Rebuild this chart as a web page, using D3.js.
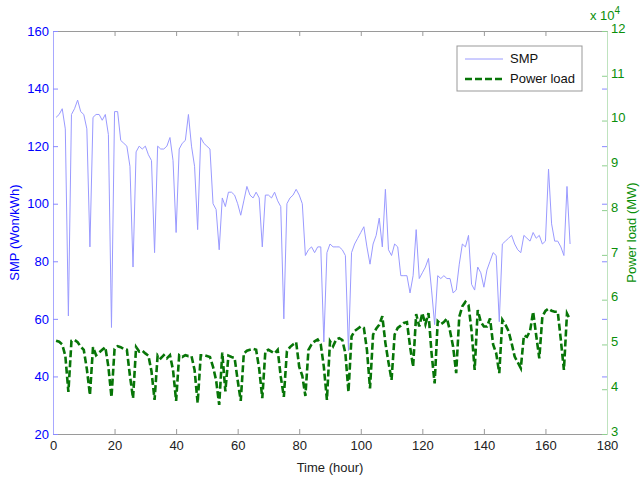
<!DOCTYPE html>
<html><head><meta charset="utf-8">
<script src="https://cdn.jsdelivr.net/npm/d3@7"></script>
<style>
body{margin:0;background:#fff}
svg{display:block}
text{font-family:"Liberation Sans",Arial,Helvetica,sans-serif}
</style>
</head><body>
<svg id="chart" width="640" height="479"></svg>
<script>
// ---- data ----
const hours = d3.range(1, 169);
const smp = [
130,131,133,126,61,131,133,136,132,131,
126,85,130,131,131,129,131,124,57,132,
132,122,121,120,113,78,118,120,119,120,
117,115,83,120,119,119,120,123,115,90,
119,121,122,131,120,113,91,123,121,120,
119,100,98,84,102,99,104,104,103,100,
96,101,106,103,102,104,102,85,103,103,
102,104,101,99,60,100,102,103,105,103,
100,82,84,85,83,85,85,52,83,86,
85,85,85,84,82,49,83,86,88,90,
92,85,79,86,89,95,85,105,84,82,
86,85,75,75,75,69,75,91,74,76,
78,81,70,58,75,74,75,74,74,69,
70,79,86,85,89,72,70,78,76,71,
77,80,83,82,59,86,87,88,89,86,
84,83,89,88,87,90,88,89,86,87,
112,93,87,87,85,82,106,86];
const powerLoad = [
50800,50600,50000,47500,39400,50800,51000,50500,49500,48800,
44500,38700,49400,47600,48200,48800,49400,45000,38200,49000,
49600,49400,49000,48800,43000,38000,49400,48400,48600,48000,
47500,44000,37600,47600,46900,47600,46900,47600,44300,37400,
47600,47200,47600,47400,47400,44300,36900,47600,47600,47400,
47200,45000,42000,36500,48200,39500,47500,47200,47000,42000,
37400,48000,48600,48800,49000,48800,44500,38000,48500,48800,
48400,48000,48800,42800,38300,48500,49400,50000,50500,45000,
43000,38500,48800,50000,50700,51100,50000,45000,37600,50700,
49600,51100,51400,51000,48000,39400,51800,53000,53500,54000,
53700,48800,40200,52200,53500,54400,56300,50300,46000,42100,
52200,53700,54200,54800,55000,49600,45000,56800,54000,57000,
54500,57000,48000,41300,55200,54500,55000,55800,53000,49500,
43600,56200,58500,59500,58800,53000,44300,57700,55000,54000,
54000,55800,50000,48000,43600,55500,54400,53000,50300,47300,
46000,44700,52000,51700,53000,57300,52000,46900,56200,57500,
58000,57500,57300,57300,51000,44300,56900,55500];
const xTicks = [0,20,40,60,80,100,120,140,160,180];
const smpTicks = [20,40,60,80,100,120,140,160];
const loadTicks = [30000,40000,50000,60000,70000,80000,90000,100000,110000,120000];
const seriesNames = ["SMP", "Power load"];

// ---- layout ----
const L = 53, R = 607, T = 31, B = 434;
const svg = d3.select("#chart");
const x = d3.scaleLinear().domain([0,180]).range([L,R]);
const ySmp = d3.scaleLinear().domain([20,160]).range([B,T]);
const yLoad = d3.scaleLinear().domain([30000,120000]).range([B,T]);

const blue = "#0000ff", green = "#0a8f0a";
const smpColor = "#9a9aff", loadColor = "#077507";

// lines
svg.append("path")
  .datum(hours.map((h,i)=>[h, smp[i]]))
  .attr("fill","none").attr("stroke",smpColor).attr("stroke-width",1)
  .attr("d", d3.line().x(d=>x(d[0])).y(d=>ySmp(d[1])));

svg.append("path")
  .datum(hours.map((h,i)=>[h, powerLoad[i]]))
  .attr("fill","none").attr("stroke",loadColor).attr("stroke-width",2.6)
  .attr("stroke-dasharray","7,3")
  .attr("d", d3.line().x(d=>x(d[0])).y(d=>yLoad(d[1])));

function styleAxis(g, lineColor, tickColor, textColor){
  g.select(".domain").attr("stroke", lineColor);
  g.selectAll(".tick line").attr("stroke", tickColor);
  g.selectAll(".tick text").attr("fill", textColor).style("font-size","13px")
    .style("font-family",'"Liberation Sans",Arial,sans-serif');
}

// bottom
const gB = svg.append("g").attr("transform",`translate(0,${B})`)
  .call(d3.axisBottom(x).tickValues(xTicks).tickSizeInner(-5).tickSizeOuter(0).tickPadding(7).tickFormat(d3.format("d")));
styleAxis(gB, "#9a9a9a", "#9a9a9a", "#222");
// top
const gT = svg.append("g").attr("transform",`translate(0,${T})`)
  .call(d3.axisTop(x).tickValues(xTicks).tickSizeInner(-5).tickSizeOuter(0).tickFormat(""));
styleAxis(gT, "#9a9a9a", "#9a9a9a", "#222");
// left
const gL = svg.append("g").attr("transform",`translate(${L},0)`)
  .call(d3.axisLeft(ySmp).tickValues(smpTicks).tickSizeInner(-5).tickSizeOuter(0).tickPadding(4));
styleAxis(gL, "#a8a8ff", "#8a8aff", blue);
// right mirror of SMP ticks
const gRm = svg.append("g").attr("transform",`translate(${R},0)`)
  .call(d3.axisRight(ySmp).tickValues(smpTicks).tickSizeInner(-5).tickSizeOuter(0).tickFormat(""));
styleAxis(gRm, "none", "#8a8aff", blue);
// right load axis
const gR = svg.append("g").attr("transform",`translate(${R},0)`)
  .call(d3.axisRight(yLoad).tickValues(loadTicks).tickSizeInner(-5).tickSizeOuter(0).tickPadding(4).tickFormat(d=>d/10000));
styleAxis(gR, "#bfe3bf", "#8fcf8f", green);
gR.selectAll(".tick text").attr("dy","0.1em");

// exponent label
const ex = svg.append("text").attr("x",590).attr("y",20).attr("fill",green).style("font-size","13px");
ex.append("tspan").text("x 10");
ex.append("tspan").attr("dy",-6).style("font-size","10px").text("4");

// axis titles
svg.append("text").attr("x",(L+R)/2).attr("y",472).attr("text-anchor","middle")
  .attr("fill","#222").style("font-size","13px").text("Time (hour)");
svg.append("text").attr("transform",`translate(19,${(T+B)/2}) rotate(-90)`).attr("text-anchor","middle")
  .attr("fill",blue).style("font-size","13px").text("SMP (Won/kWh)");
svg.append("text").attr("transform",`translate(636,${(T+B)/2}) rotate(-90)`).attr("text-anchor","middle")
  .attr("fill",green).style("font-size","13px").text("Power load (MW)");

// legend
const lg = svg.append("g");
lg.append("rect").attr("x",457).attr("y",46).attr("width",125).attr("height",45)
  .attr("fill","#fff").attr("stroke","#999");
lg.append("line").attr("x1",465).attr("x2",503).attr("y1",59).attr("y2",59)
  .attr("stroke",smpColor).attr("stroke-width",1);
lg.append("text").attr("x",510).attr("y",63).style("font-size","13px").attr("fill","#111").text(seriesNames[0]);
lg.append("line").attr("x1",465).attr("x2",503).attr("y1",79).attr("y2",79)
  .attr("stroke",loadColor).attr("stroke-width",2.6).attr("stroke-dasharray","7,3");
lg.append("text").attr("x",510).attr("y",83).style("font-size","13px").attr("fill","#111").text(seriesNames[1]);
</script>
</body></html>
